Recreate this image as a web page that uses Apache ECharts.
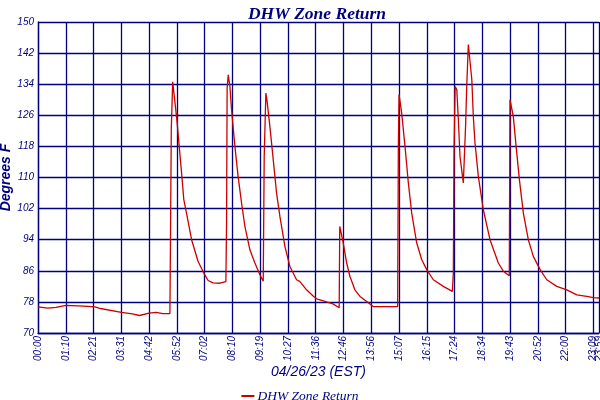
<!DOCTYPE html>
<html lang="en">
<head>
    <meta charset="UTF-8">
    <title>DHW Zone Return</title>
    <style type="text/css">
        *{
            margin: 0px;
            padding: 0px;
        }
        #chart{
            width: 600px;
            height: 400px;
            background-color: #ffffff;
        }
    </style>
</head>
<body>
<div id="chart"></div>
<script src="https://cdn.jsdelivr.net/npm/echarts@6/dist/echarts.min.js"></script>
<script type="text/javascript">
  // x position = logger sample number, 20 samples between two time labels
  var samplesPerTick = 20;
  var lastSample = 404;

  var timeLabels = ['00:00', '01:10', '02:21', '03:31', '04:42', '05:52', '07:02', '08:10',
    '09:19', '10:27', '11:36', '12:46', '13:56', '15:07', '16:15', '17:24', '18:34',
    '19:43', '20:52', '22:00', '23:09'];
  var endLabel = '23:59';

  var sampleIdx = [0, 7, 13, 20, 33, 41, 45, 60, 68, 73, 80, 85, 90, 95,
    95.4, 96, 97, 100, 103.6, 105, 107.4, 110.6, 115.3, 120, 122.5, 126, 131, 135.3,
    135.8, 136.2, 137, 138.2, 139.4, 141.8, 144.1, 146.6, 149, 152.6, 156.2, 159.8, 162.2,
    162.9, 164.1, 165, 167, 169.4, 171.8, 174.2, 177.8, 181.4, 186.2, 188.5, 193.4, 198.5, 200.6, 207.8, 212.4, 216.9,
    217.3, 219.8, 222.3, 224.6, 228.2, 231.9, 236.7, 241.4, 259,
    259.5, 260, 261.9, 264.3, 266.7, 269.1, 272.7, 276.3, 279.9, 284.7, 291.9, 298.4,
    299.1, 299.6, 300.4, 301.6, 302.7, 303.9, 306.3, 307.5,
    308, 308.7, 309.9, 312.4, 313.5, 314.7, 317.1, 320.7, 325.5, 331.5, 335.1, 339.4,
    339.9, 341.2, 342.3, 344.3, 346.7, 349.5, 353.1, 356.7, 361.6, 366.4, 373.6, 380.8,
    388, 395.2, 400, 404];

  var tempF = [76.7, 76.4, 76.6, 77.1, 76.9, 76.7, 76.3, 75.3, 74.9, 74.5, 75.1, 75.3, 75.0, 75.0,
    94.0, 122.7, 134.6, 124.9, 110.3, 104.3, 100.0, 94.0, 88.4, 85.0, 83.5, 82.9, 82.8, 83.2,
    98.7, 133.0, 136.4, 133.4, 127.4, 118.0, 110.3, 103.4, 97.4, 91.4, 88.0, 85.0, 83.3,
    115.4, 131.7, 129.6, 123.1, 114.6, 106.0, 100.0, 92.3, 87.1, 83.7, 83.3, 81.1, 79.4, 78.8, 78.0, 77.5, 76.5,
    97.4, 93.2, 88.0, 84.6, 81.1, 79.4, 78.1, 76.8, 76.8,
    117.6, 131.3, 126.6, 118.0, 108.6, 100.9, 93.2, 88.9, 86.3, 83.7, 82.0, 80.7,
    85.4, 116.3, 133.4, 132.6, 124.9, 115.4, 108.6, 108.6,
    124.0, 133.0, 144.2, 135.2, 125.7, 118.9, 110.3, 101.7, 94.0, 88.0, 85.9, 84.7,
    130.0, 130.5, 125.7, 118.0, 109.4, 100.9, 94.0, 89.7, 86.3, 83.7, 82.0, 81.1,
    79.8, 79.4, 79.1, 79.0];

  var points = [];
  for (var i = 0; i < sampleIdx.length; i++) {
    points.push([sampleIdx[i], tempF[i]]);
  }

  var navy = '#000080';
  var labelFont = {
    color: navy,
    fontFamily: 'Liberation Sans',
    fontStyle: 'italic',
    fontSize: 10
  };
  var myChart = echarts.init(document.getElementById('chart'));

  myChart.setOption({
    animation: false,
    title: {
      text: 'DHW Zone Return',
      left: 312,
      textAlign: 'center',
      top: 0,
      textStyle: {
        color: navy,
        fontFamily: 'Liberation Serif',
        fontStyle: 'italic',
        fontWeight: 'bold',
        fontSize: 17.5
      }
    },
    legend: {
      left: 'center',
      top: 384,
      icon: 'rect',
      itemWidth: 13,
      itemHeight: 2,
      itemGap: 4,
      textStyle: {
        color: navy,
        fontFamily: 'Liberation Serif',
        fontStyle: 'italic',
        fontSize: 13.5,
        padding: [0, 0, 0, -2]
      },
      data: ['DHW Zone Return']
    },
    grid: {
      left: 38,
      right: 1,
      top: 22,
      bottom: 67,
      containLabel: false,
      outerBoundsMode: 'none'
    },
    xAxis: [
      {
        type: 'value',
        min: 0,
        max: lastSample,
        interval: samplesPerTick,
        name: '04/26/23 (EST)',
        nameLocation: 'middle',
        nameGap: 32,
        nameMoveOverlap: false,
        nameTextStyle: {
          color: navy,
          fontFamily: 'Liberation Sans',
          fontStyle: 'italic',
          fontSize: 14
        },
        axisLine: { show: true, lineStyle: { color: navy, width: 1.3 } },
        axisTick: { show: false },
        splitLine: { show: true, lineStyle: { color: navy, width: 1.3 } },
        axisLabel: Object.assign({
          rotate: 90,
          margin: 3,
          showMinLabel: true,
          showMaxLabel: false,
          hideOverlap: false,
          formatter: function (v) {
            var k = Math.round(v / samplesPerTick);
            if (Math.abs(v - k * samplesPerTick) > 0.01) return '';
            return timeLabels[k] || '';
          }
        }, labelFont)
      },
      {
        // second bottom axis only carries the end-of-day label
        type: 'value',
        position: 'bottom',
        min: 0,
        max: lastSample,
        interval: lastSample,
        axisLine: { show: false },
        axisTick: { show: false },
        splitLine: { show: false },
        axisLabel: Object.assign({
          rotate: 90,
          margin: 3,
          showMinLabel: false,
          showMaxLabel: true,
          formatter: function (v) {
            return v === lastSample ? endLabel : '';
          }
        }, labelFont)
      }
    ],
    yAxis: {
      type: 'value',
      min: 70,
      max: 150,
      interval: 8,
      name: 'Degrees F',
      nameLocation: 'middle',
      nameGap: 25,
      nameMoveOverlap: false,
      nameTextStyle: {
        color: navy,
        fontFamily: 'Liberation Sans',
        fontStyle: 'italic',
        fontWeight: 'bold',
        fontSize: 14
      },
      axisLine: { show: true, lineStyle: { color: navy, width: 1.3 } },
      axisTick: { show: false },
      splitLine: { show: true, lineStyle: { color: navy, width: 1.3 } },
      axisLabel: Object.assign({ margin: 4 }, labelFont)
    },
    series: [
      {
        name: 'DHW Zone Return',
        type: 'line',
        showSymbol: false,
        data: points,
        itemStyle: { color: '#cc0000' },
        lineStyle: { color: '#cc0000', width: 1.3 }
      }
    ]
  });
</script>
</body>
</html>
